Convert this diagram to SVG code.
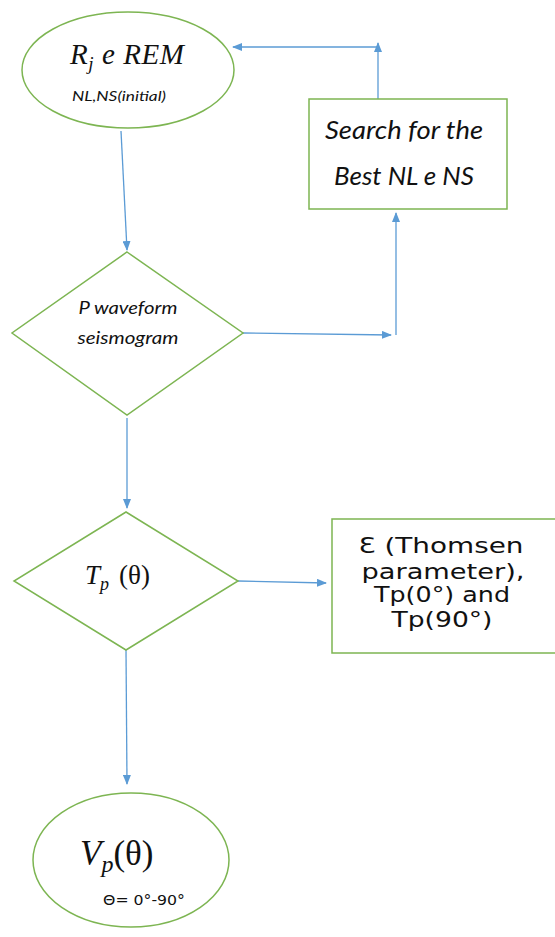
<svg xmlns="http://www.w3.org/2000/svg" width="555" height="937" viewBox="0 0 555 937">
<style>
.shape{fill:#fff;stroke:#7DB552;stroke-width:1.5}
.con{stroke:#5B9BD5;stroke-width:1.3;fill:none}
.math{font-family:"Liberation Serif","DejaVu Serif",serif;fill:#111}
.cal{font-family:Lato,"Open Sans",sans-serif;font-style:italic;fill:#111}
.goth{font-family:"DejaVu Sans","Liberation Sans",sans-serif;fill:#111}
</style>
<defs>
<marker id="ah" markerWidth="10" markerHeight="8" refX="9" refY="4" orient="auto" markerUnits="userSpaceOnUse">
<path d="M0,0 L10,4 L0,8 Z" fill="#5B9BD5"/>
</marker>
</defs>
<rect width="555" height="937" fill="#fff"/>
<g id="connectors">
<path class="con" d="M121,131 L127,250" marker-end="url(#ah)"/>
<path class="con" d="M243,333 L391,335" marker-end="url(#ah)"/>
<path class="con" d="M396,335 L396,213" marker-end="url(#ah)"/>
<path class="con" d="M378,99 L378,43" marker-end="url(#ah)"/>
<path class="con" d="M378,47 L233,47" marker-end="url(#ah)"/>
<path class="con" d="M127,418 L127,508" marker-end="url(#ah)"/>
<path class="con" d="M238,581 L326,583" marker-end="url(#ah)"/>
<path class="con" d="M126,650 L127,784" marker-end="url(#ah)"/>
</g>
<g id="start">
<ellipse class="shape" cx="128" cy="70" rx="106" ry="58"/>
<text class="math" x="70" y="64" font-size="29" font-style="italic" textLength="114">R<tspan font-size="19" dy="6">j</tspan><tspan dy="-6"> e REM</tspan></text>
<text class="cal" x="72" y="101" font-size="14" textLength="94" lengthAdjust="spacingAndGlyphs">NL,NS(initial)</text>
</g>
<g id="search">
<rect class="shape" x="309" y="99" width="198" height="110"/>
<text class="cal" x="404" y="139" font-size="26" text-anchor="middle" textLength="158" lengthAdjust="spacingAndGlyphs">Search for the</text>
<text class="cal" x="404" y="185" font-size="26" text-anchor="middle" textLength="140" lengthAdjust="spacingAndGlyphs">Best NL e NS</text>
</g>
<g id="pwave">
<polygon class="shape" points="127,252 243,333 127,415 12,333"/>
<text class="cal" x="128" y="314" font-size="17" text-anchor="middle" textLength="99" lengthAdjust="spacingAndGlyphs">P waveform</text>
<text class="cal" x="128" y="344" font-size="17" text-anchor="middle" textLength="101" lengthAdjust="spacingAndGlyphs">seismogram</text>
</g>
<g id="tp">
<polygon class="shape" points="126,512 238,581 126,650 14,581"/>
<text class="math" x="85" y="584" font-size="27"><tspan font-style="italic">T</tspan><tspan font-style="italic" font-size="18" dy="6">p</tspan><tspan dy="-6" dx="10">(θ)</tspan></text>
</g>
<g id="thomsen">
<rect class="shape" x="332" y="519" width="225" height="134"/>
<text class="goth" x="441" y="553" font-size="22" text-anchor="middle" textLength="165" lengthAdjust="spacingAndGlyphs">Ɛ (Thomsen</text>
<text class="goth" x="443" y="579" font-size="22" text-anchor="middle" textLength="163" lengthAdjust="spacingAndGlyphs">parameter),</text>
<text class="goth" x="442" y="602" font-size="22" text-anchor="middle" textLength="136" lengthAdjust="spacingAndGlyphs">Tp(0°) and</text>
<text class="goth" x="442" y="627" font-size="22" text-anchor="middle" textLength="101" lengthAdjust="spacingAndGlyphs">Tp(90°)</text>
</g>
<g id="vp">
<ellipse class="shape" cx="131" cy="860" rx="98" ry="67"/>
<text class="math" x="80" y="865" font-size="35"><tspan font-style="italic">V</tspan><tspan font-style="italic" font-size="24" dy="7">p</tspan><tspan dy="-7">(θ)</tspan></text>
<text class="goth" x="103" y="905" font-size="14" textLength="82" lengthAdjust="spacingAndGlyphs">Θ= 0°-90°</text>
</g>
</svg>
